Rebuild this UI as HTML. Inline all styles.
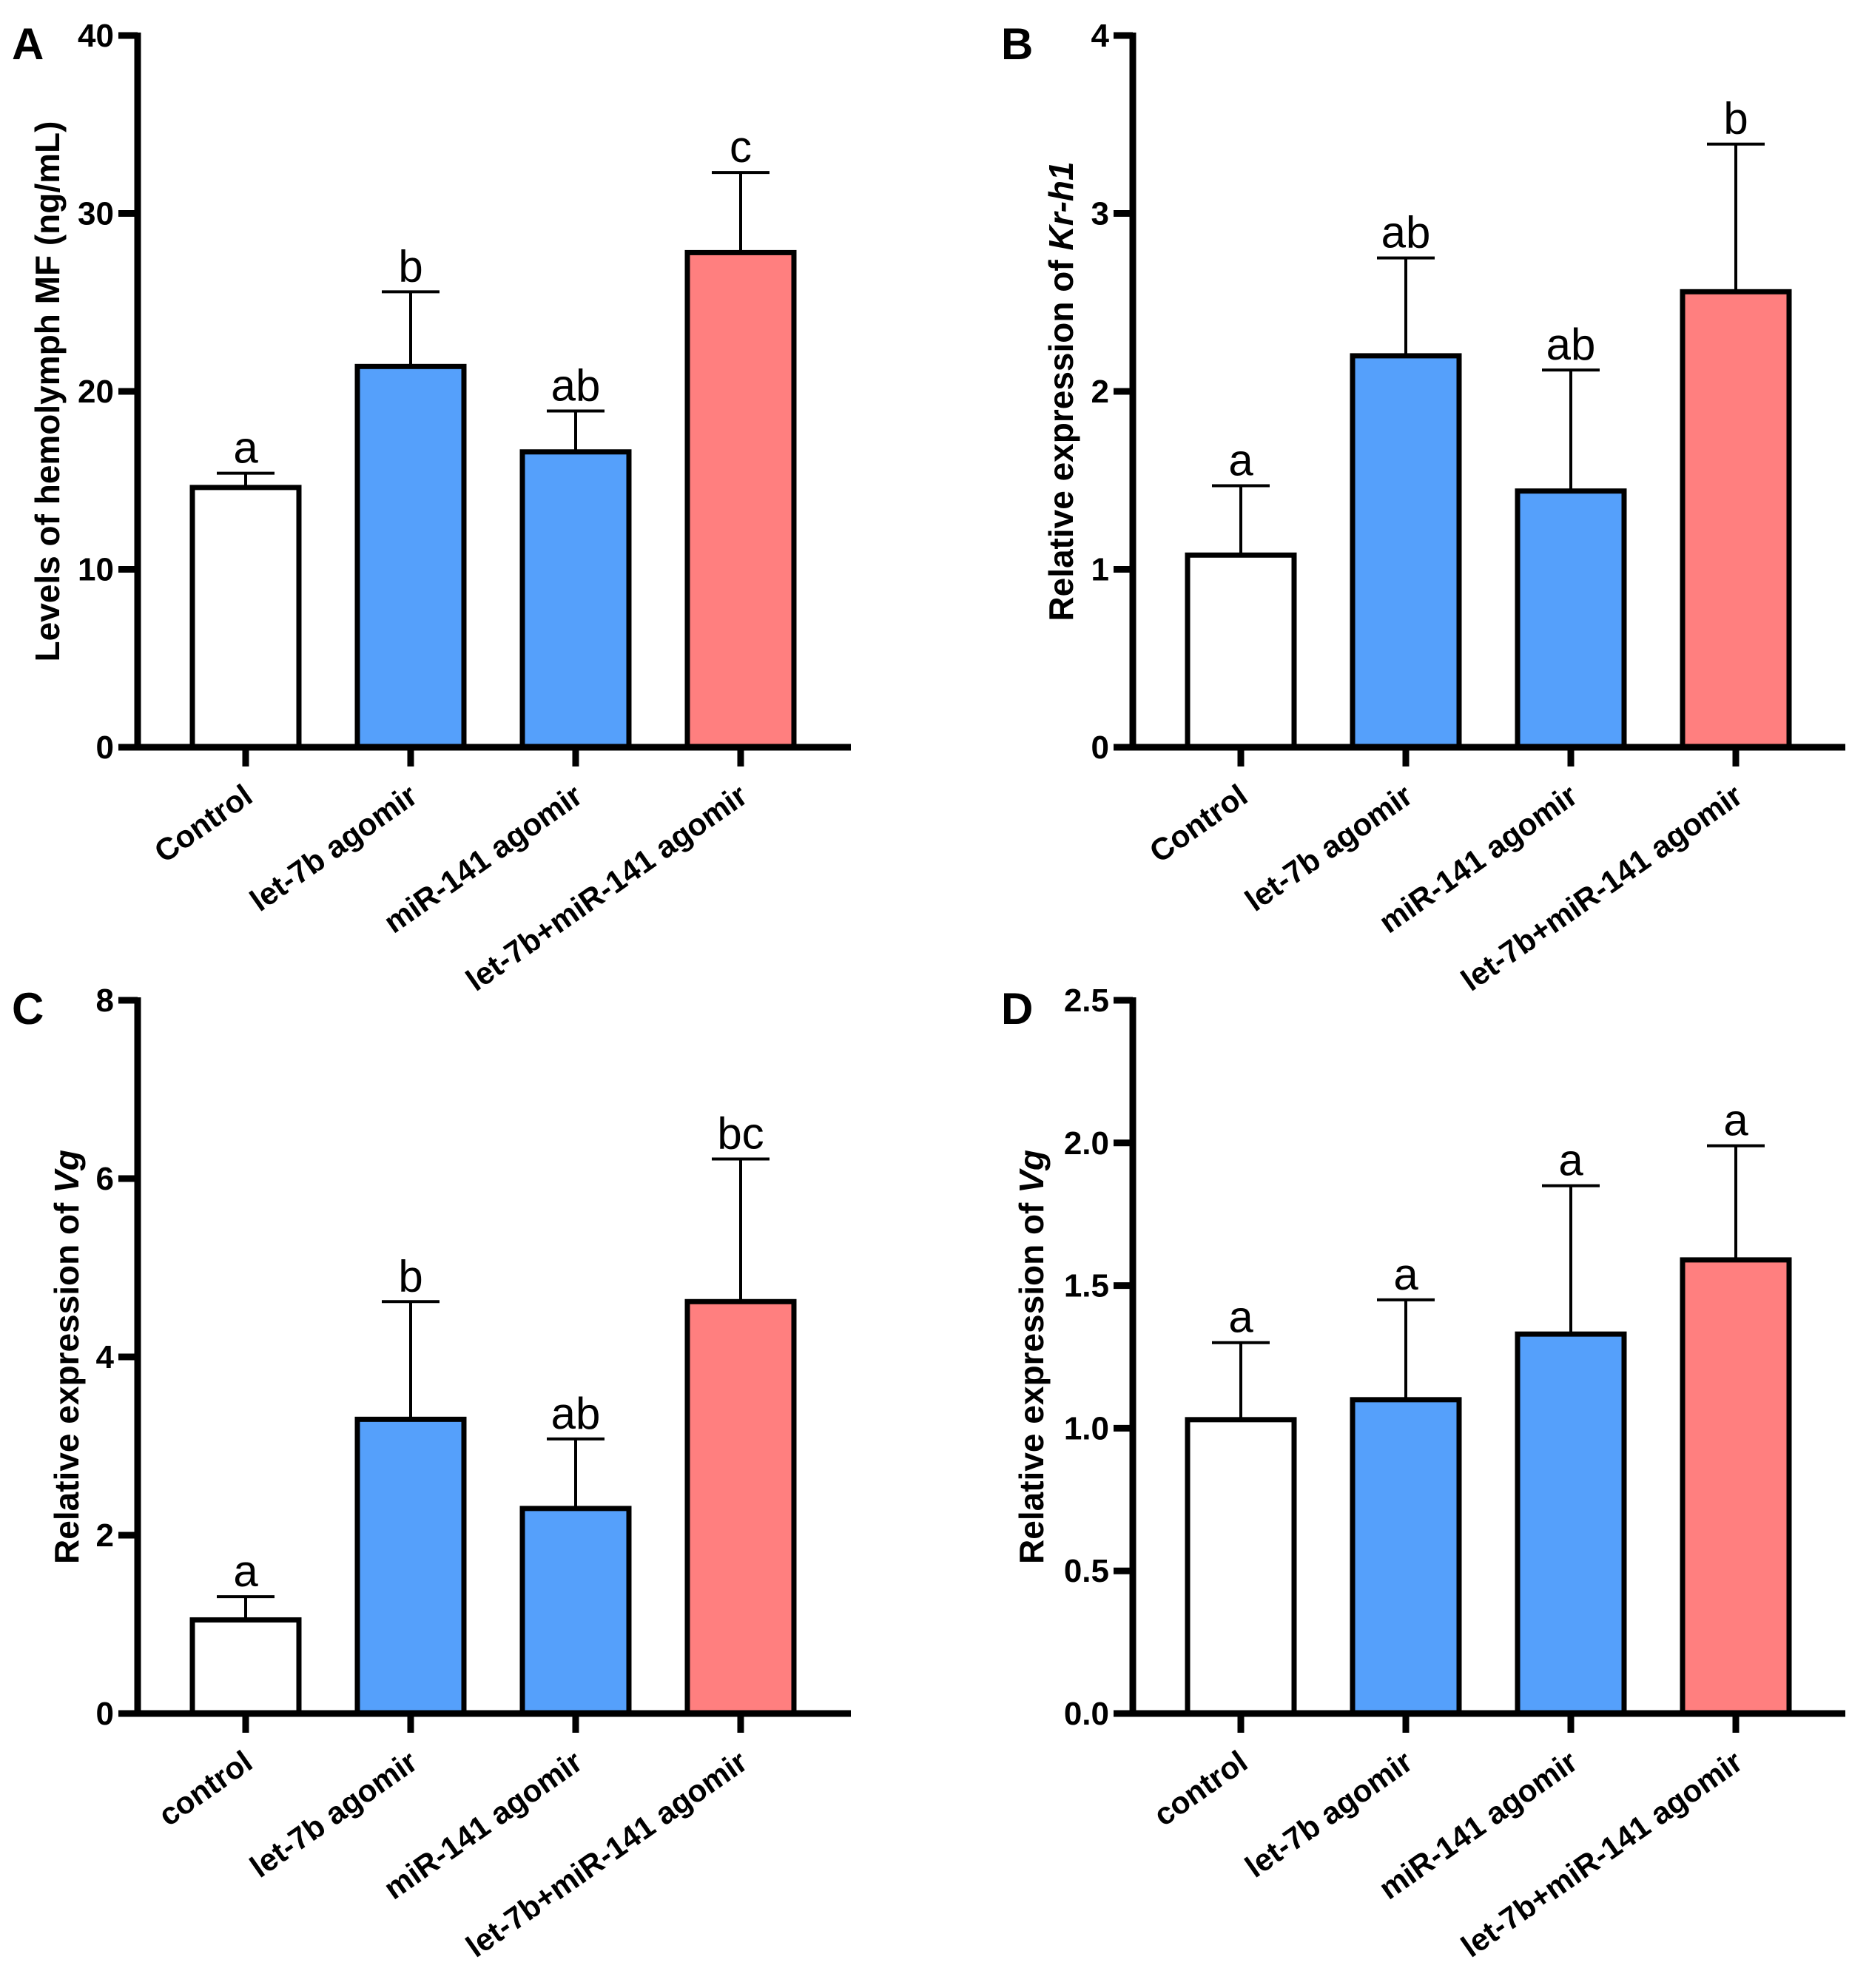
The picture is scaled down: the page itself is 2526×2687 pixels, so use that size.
<!DOCTYPE html>
<html><head><meta charset="utf-8">
<style>
html,body{margin:0;padding:0;background:#fff;}
svg{display:block;font-family:"Liberation Sans",Arial,sans-serif;}
</style></head>
<body>
<svg id="fig" width="2526" height="2687" viewBox="0 0 2526 2687" xmlns="http://www.w3.org/2000/svg"></svg>
<script>
// Panel A data
const catsUpper = ["Control","let-7b agomir","miR-141 agomir","let-7b+miR-141 agomir"];
const catsLower = ["control","let-7b agomir","miR-141 agomir","let-7b+miR-141 agomir"];
const valsA = [14.6, 21.4, 16.6, 27.8];
const errA = [0.8, 4.2, 2.3, 4.5];
const sigA = ["a","b","ab","c"];
const ticksA = [0,10,20,30,40];
// Panel B data
const valsB = [1.08, 2.2, 1.44, 2.56];
const errB = [0.39, 0.55, 0.68, 0.83];
const sigB = ["a","ab","ab","b"];
const ticksB = [0,1,2,3,4];
// Panel C data
const valsC = [1.05, 3.3, 2.3, 4.62];
const errC = [0.26, 1.32, 0.78, 1.6];
const sigC = ["a","b","ab","bc"];
const ticksC = [0,2,4,6,8];
// Panel D data
const valsD = [1.03, 1.1, 1.33, 1.59];
const errD = [0.27, 0.35, 0.52, 0.4];
const sigD = ["a","a","a","a"];
const ticksD = [0,0.5,1.0,1.5,2.0,2.5];
const tickLabelsD = ["0.0","0.5","1.0","1.5","2.0","2.5"];
const fills = ["#ffffff","#55a0fb","#55a0fb","#ff7f7f"];

const NS="http://www.w3.org/2000/svg";
const svg=document.getElementById('fig');
function mk(tag,attrs,parent){const e=document.createElementNS(NS,tag);for(const k in attrs)e.setAttribute(k,attrs[k]);(parent||svg).appendChild(e);return e;}

function panel(p){
  const g=mk('g',{});
  
  
  const ax=p.ax, y0=p.y0, ytop=p.ytop, xend=p.xend, max=p.ticks[p.ticks.length-1];
  const ys=v=>y0-(v/max)*(y0-ytop);
  const step=223, bw=144, first=ax+146;
  const xs=i=>first+i*step;
  p.vals.forEach((v,i)=>{
    const cx=xs(i);
    const el=mk('line',{x1:cx,x2:cx,y1:ys(v),y2:ys(v+p.err[i]),stroke:'#000','stroke-width':4},g);
    
    
    const cap=mk('line',{x1:cx-39,x2:cx+39,y1:ys(v+p.err[i]),y2:ys(v+p.err[i]),stroke:'#000','stroke-width':4},g);
    
    
    const r=mk('rect',{x:cx-bw/2,y:ys(v),width:bw,height:y0-ys(v),fill:fills[i],stroke:'#000','stroke-width':7},g);
    
    
    const t=mk('text',{x:cx,y:ys(v+p.err[i])-14,'text-anchor':'middle','font-size':60},g);
    t.textContent=p.sig[i];
    
    
    const tk=mk('line',{x1:cx,x2:cx,y1:y0,y2:y0+26,stroke:'#000','stroke-width':9},g);
    
    
    const lx=cx+12, ly=y0+72;
    const cl=mk('text',{x:lx,y:ly,'text-anchor':'end','font-size':42,'font-weight':'bold',transform:`rotate(-35 ${lx} ${ly})`},g);
    cl.textContent=p.cats[i];
    
    
  });
  const ya=mk('line',{x1:ax,x2:ax,y1:ytop-4,y2:y0+4,stroke:'#000','stroke-width':9},g);
  
  
  const xa=mk('line',{x1:ax-26,x2:xend,y1:y0,y2:y0,stroke:'#000','stroke-width':9},g);
  
  
  p.ticks.forEach((t,i)=>{
    const l=mk('line',{x1:ax-26,x2:ax,y1:ys(t),y2:ys(t),stroke:'#000','stroke-width':9},g);
    
    
    const tx=mk('text',{x:ax-32,y:ys(t)+15,'text-anchor':'end','font-size':44,'font-weight':'bold'},g);
    tx.textContent=p.tickLabels?p.tickLabels[i]:String(t);
    
    
  });
  const cy=(ytop+y0)/2;
  const tt=mk('text',{x:p.tx,y:cy,'text-anchor':'middle','font-size':46,'font-weight':'bold',transform:`rotate(-90 ${p.tx} ${cy})`},g);
  
  
  tt.appendChild(document.createTextNode(p.title));
  if(p.ital){const ts=mk('tspan',{'font-style':'italic'},tt);ts.textContent=p.ital;}
  const pl=mk('text',{x:p.lx,y:ytop+32,'font-size':60,'font-weight':'bold'},g);
  pl.textContent=p.id;
  
  
}
panel({id:'A',ax:186,y0:1010,ytop:48,xend:1150,vals:valsA,err:errA,sig:sigA,ticks:ticksA,cats:catsUpper,title:'Levels of hemolymph MF (ng/mL)',tx:80,lx:16});
panel({id:'B',ax:1531,y0:1010,ytop:48,xend:2494,vals:valsB,err:errB,sig:sigB,ticks:ticksB,cats:catsUpper,title:'Relative expression of ',ital:'Kr-h1',tx:1450,lx:1353});
panel({id:'C',ax:186,y0:2316,ytop:1352,xend:1150,vals:valsC,err:errC,sig:sigC,ticks:ticksC,cats:catsLower,title:'Relative expression of ',ital:'Vg',tx:106,lx:16});
panel({id:'D',ax:1531,y0:2316,ytop:1352,xend:2494,vals:valsD,err:errD,sig:sigD,ticks:ticksD,tickLabels:tickLabelsD,cats:catsLower,title:'Relative expression of ',ital:'Vg',tx:1410,lx:1353});
</script>
</body></html>
